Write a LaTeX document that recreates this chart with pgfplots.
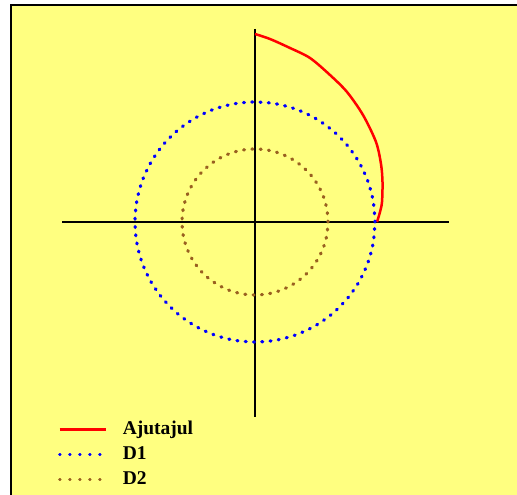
\documentclass[border=0pt]{standalone}
\usepackage{pgfplots}
\pgfplotsset{compat=1.18}
\usepackage{fontspec}
\setmainfont{Liberation Serif}
\definecolor{bgyellow}{RGB}{255,255,128}
\definecolor{dtwo}{RGB}{153,96,32}
\begin{document}
\begin{tikzpicture}
\path[use as bounding box] (0,0) rectangle (517pt,495pt);
\begin{axis}[at={(0,0)}, anchor=south west, scale only axis,
  width=517pt, height=495pt,
  xmin=-255, xmax=262, ymin=-273, ymax=222,
  hide axis, clip=true,
  legend style={at={(axis cs:-200,-197)}, anchor=north west, draw=none, fill=none,
    font=\fontsize{19.5}{21}\selectfont\bfseries, row sep=8pt,
    cells={anchor=west},
    nodes={inner sep=0pt, text height=13pt, text depth=4pt},
    /tikz/every odd column/.append style={column sep=16pt}},
]
\fill[white] (rel axis cs:0,0) rectangle (rel axis cs:1,1);
\fill[bgyellow] (axis cs:-244,-290) rectangle (axis cs:280,217);
\draw[black, line width=2pt] (axis cs:-244,-290) -- (axis cs:-244,217) -- (axis cs:280,217);

% axes cross
\addplot[black, line width=1.6pt, forget plot] coordinates {(-193,0) (194,0)};
\addplot[black, line width=1.6pt, forget plot] coordinates {(0,193) (0,-195)};

% Ajutajul
\addplot[red, line width=2.5pt, smooth,
  legend image code/.code={\draw[red,line width=2.5pt] (0pt,0pt) -- (46pt,0pt);}]
  coordinates {(0,188) (15,183) (35,174) (55,164) (75,147) (92,130) (108,107) (121,80) (126,58) (127.5,40) (127,20) (125,10) (122,0)};
\addlegendentry{Ajutajul}

% D1
\addplot[blue, line width=3.2pt, line cap=round, dash pattern=on 1pt off 7.29pt, smooth,
  legend image code/.code={\draw[blue,line width=2.6pt,line cap=round,dash pattern=on 0.8pt off 9.2pt] (0pt,0pt) -- (41pt,0pt);}]
  coordinates {(120,0) (118.2,20.8) (112.8,41.0) (103.9,60) (91.9,77.1) (77.1,91.9) (60,103.9) (41.0,112.8) (20.8,118.2)
  (0,120) (-20.8,118.2) (-41.0,112.8) (-60,103.9) (-77.1,91.9) (-91.9,77.1) (-103.9,60) (-112.8,41.0) (-118.2,20.8)
  (-120,0) (-118.2,-20.8) (-112.8,-41.0) (-103.9,-60) (-91.9,-77.1) (-77.1,-91.9) (-60,-103.9) (-41.0,-112.8) (-20.8,-118.2)
  (0,-120) (20.8,-118.2) (41.0,-112.8) (60,-103.9) (77.1,-91.9) (91.9,-77.1) (103.9,-60) (112.8,-41.0) (118.2,-20.8) (120,0)};
\addlegendentry{D1}

% D2
\addplot[dtwo, line width=3.2pt, line cap=round, dash pattern=on 1pt off 7.34pt, smooth,
  legend image code/.code={\draw[dtwo,line width=2.6pt,line cap=round,dash pattern=on 0.8pt off 9.2pt] (0pt,0pt) -- (41pt,0pt);}]
  coordinates {(73,0) (71.9,12.7) (68.6,25.0) (63.2,36.5) (55.9,46.9) (46.9,55.9) (36.5,63.2) (25.0,68.6) (12.7,71.9)
  (0,73) (-12.7,71.9) (-25.0,68.6) (-36.5,63.2) (-46.9,55.9) (-55.9,46.9) (-63.2,36.5) (-68.6,25.0) (-71.9,12.7)
  (-73,0) (-71.9,-12.7) (-68.6,-25.0) (-63.2,-36.5) (-55.9,-46.9) (-46.9,-55.9) (-36.5,-63.2) (-25.0,-68.6) (-12.7,-71.9)
  (0,-73) (12.7,-71.9) (25.0,-68.6) (36.5,-63.2) (46.9,-55.9) (55.9,-46.9) (63.2,-36.5) (68.6,-25.0) (71.9,-12.7) (73,0)};
\addlegendentry{D2}
\end{axis}
\end{tikzpicture}
\end{document}
